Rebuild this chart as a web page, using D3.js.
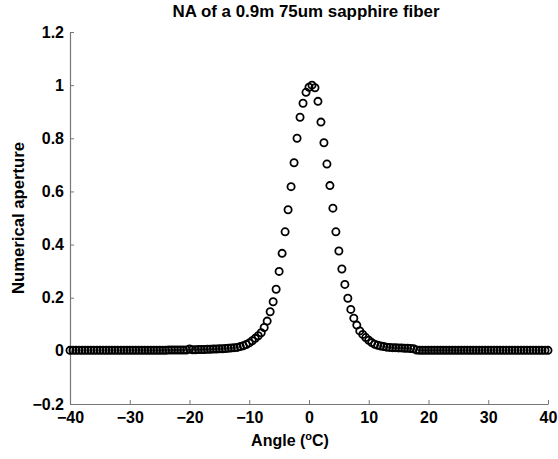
<!DOCTYPE html>
<html>
<head>
<meta charset="utf-8">
<script src="https://cdn.jsdelivr.net/npm/d3@7"></script>
<style>
  body { margin: 0; background: #fff; }
  text { font-family: "Liberation Sans", Arial, sans-serif; font-weight: bold; }
</style>
</head>
<body>
<div class="graphic"></div>
<script>
// angle values (deg), one sample every half degree
var angles = [
  -40,-39.5,-39,-38.5,-38,-37.5,-37,-36.5,-36,-35.5,-35,-34.5,-34,-33.5,-33,-32.5,-32,-31.5,-31,-30.5,
  -30,-29.5,-29,-28.5,-28,-27.5,-27,-26.5,-26,-25.5,-25,-24.5,-24,-23.5,-23,-22.5,-22,-21.5,-21,-20.5,
  -20,-19.5,-19,-18.5,-18,-17.5,-17,-16.5,-16,-15.5,-15,-14.5,-14,-13.5,-13,-12.5,-12,-11.5,-11,-10.5,
  -10,-9.5,-9,-8.5,-8,-7.5,-7,-6.5,-6,-5.5,-5,-4.5,-4,-3.5,-3,-2.5,-2,-1.5,-1,-0.5,
  0,0.5,1,1.5,2,2.5,3,3.5,4,4.5,5,5.5,6,6.5,7,7.5,8,8.5,9,9.5,
  10,10.5,11,11.5,12,12.5,13,13.5,14,14.5,15,15.5,16,16.5,17,17.5,18,18.5,19,19.5,
  20,20.5,21,21.5,22,22.5,23,23.5,24,24.5,25,25.5,26,26.5,27,27.5,28,28.5,29,29.5,
  30,30.5,31,31.5,32,32.5,33,33.5,34,34.5,35,35.5,36,36.5,37,37.5,38,38.5,39,39.5,40
];

// numerical aperture
var naValues = [
  0.002,0.002,0.002,0.002,0.002,0.002,0.002,0.002,0.002,0.002,0.002,0.002,0.002,0.002,0.002,0.002,0.002,0.002,0.002,0.002,
  0.002,0.002,0.002,0.002,0.002,0.002,0.002,0.002,0.002,0.002,0.002,0.002,0.002,0.003,0.003,0.003,0.003,0.003,0.003,0.003,
  0.007,0.004,0.004,0.005,0.005,0.005,0.006,0.006,0.007,0.007,0.008,0.008,0.009,0.010,0.011,0.012,0.013,0.016,0.019,0.024,
  0.030,0.038,0.047,0.057,0.068,0.088,0.112,0.147,0.185,0.232,0.299,0.367,0.448,0.531,0.618,0.708,0.800,0.879,0.932,0.973,
  0.992,1.000,0.990,0.939,0.861,0.783,0.703,0.622,0.537,0.448,0.376,0.308,0.250,0.198,0.156,0.123,0.097,0.075,0.062,0.050,
  0.040,0.031,0.025,0.021,0.018,0.016,0.014,0.013,0.012,0.012,0.011,0.011,0.010,0.010,0.009,0.008,0.003,0.002,0.002,0.002,
  0.002,0.002,0.002,0.002,0.002,0.002,0.002,0.002,0.002,0.002,0.002,0.002,0.002,0.002,0.002,0.002,0.002,0.002,0.002,0.002,
  0.002,0.002,0.002,0.002,0.002,0.002,0.002,0.002,0.002,0.002,0.002,0.002,0.002,0.002,0.002,0.002,0.002,0.002,0.002,0.002,0.002
];

var xTicks = [-40, -30, -20, -10, 0, 10, 20, 30, 40];
var yTicks = [-0.2, 0, 0.2, 0.4, 0.6, 0.8, 1, 1.2];

// set the dimensions and margins of the graph
var margin = {top: 32, right: 10, bottom: 55, left: 70},
    width = 548 - margin.left,
    height = 404 - margin.top;

var x = d3.scaleLinear().domain([-40, 40]).range([0, width]);
var y = d3.scaleLinear().domain([-0.2, 1.2]).range([height, 0]);

var svg = d3.select(".graphic").append("svg")
    .attr("width", 558)
    .attr("height", 459);

var g = svg.append("g")
    .attr("transform", "translate(" + margin.left + "," + margin.top + ")");

// x axis
var xAxis = g.append("g")
    .attr("transform", "translate(0," + height + ")")
    .call(d3.axisBottom(x).tickValues(xTicks).tickSizeInner(-4).tickSizeOuter(0).tickPadding(8)
      .tickFormat(d3.format("d")));

// y axis
var yAxis = g.append("g")
    .call(d3.axisLeft(y).tickValues(yTicks).tickSizeInner(-4).tickSizeOuter(0).tickPadding(6)
      .tickFormat(function(d) { return d3.format("~g")(d); }));

[xAxis, yAxis].forEach(function(a) {
  a.select(".domain").attr("stroke", "#777").attr("stroke-width", 1.2);
  a.selectAll(".tick line").attr("stroke", "#777");
  a.selectAll(".tick text").attr("fill", "#000").style("font-size", "16px")
    .style("font-family", "'Liberation Sans', Arial, sans-serif").style("font-weight", "bold");
});

// the data points
var data = angles.map(function(a, i) { return {angle: a, na: naValues[i]}; });

g.selectAll("circle.pt")
    .data(data)
    .enter()
    .append("circle")
    .attr("class", "pt")
    .attr("cx", function(d) { return x(d.angle); })
    .attr("cy", function(d) { return y(d.na); })
    .attr("r", 3.6)
    .attr("fill", "none")
    .attr("stroke", "#000")
    .attr("stroke-width", 1.8);

// title
svg.append("text")
    .attr("x", 306)
    .attr("y", 17)
    .attr("text-anchor", "middle")
    .style("font-size", "16px")
    .attr("textLength", 267)
    .attr("lengthAdjust", "spacingAndGlyphs")
    .text("NA of a 0.9m 75um sapphire fiber");

// x label
var xl = svg.append("text")
    .attr("x", 290)
    .attr("y", 446)
    .attr("text-anchor", "middle")
    .style("font-size", "16px");
xl.append("tspan").text("Angle (");
xl.append("tspan").attr("dy", -6).style("font-size", "11px").text("o");
xl.append("tspan").attr("dy", 6).text("C)");

// y label
svg.append("text")
    .attr("transform", "translate(24," + (margin.top + height / 2) + ") rotate(-90)")
    .attr("text-anchor", "middle")
    .style("font-size", "16px")
    .attr("textLength", 152)
    .attr("lengthAdjust", "spacingAndGlyphs")
    .text("Numerical aperture");
</script>
</body>
</html>
